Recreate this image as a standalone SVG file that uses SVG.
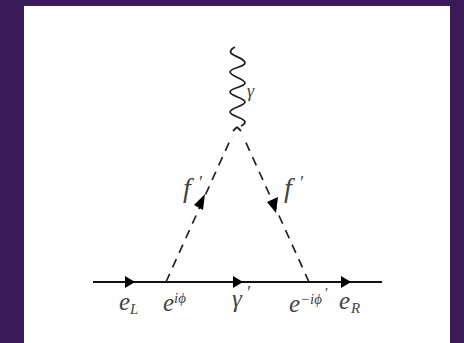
<svg xmlns="http://www.w3.org/2000/svg" width="464" height="343" viewBox="0 0 464 343">
<style>
.l{fill:none;stroke:#111;stroke-width:1.8}
.w{fill:none;stroke:#222;stroke-width:1.8;stroke-linejoin:round}
.d{fill:none;stroke:#222;stroke-width:1.7;stroke-dasharray:9 7}
.a{fill:#000}
text{font-family:"Liberation Serif",serif;font-style:italic;fill:#444}
.m{font-size:25px}
.b{font-size:28px}
.s{font-size:15px}
.k{font-size:18px}
</style>
<rect width="464" height="343" fill="#3b1a59"/>
<rect x="24" y="6" width="426" height="337" fill="#fff"/>
<g id="connectors">
<path class="l" d="M93 282H382"/>
<path class="d" d="M166 282L232 136"/>
<path class="d" d="M309 282L243 136"/>
<path class="w" d="M235 47C231 49 229 52 232 54C236 57 245 59 245 63C245 67 230 68 230 72C230 76 245 79 245 83C245 87 230 88 230 92C230 96 245 98 245 102C245 106 230 108 230 112C230 116 245 118 245 122C245 124 243 125 241 126"/>
<path class="w" d="M237 127L233 131M237 127L241 131"/>
<path class="a" d="M125 276L135 282L125 288Z"/>
<path class="a" d="M233 276L243 282L233 288Z"/>
<path class="a" d="M341 276L351 282L341 288Z"/>
<path class="a" d="M205 194L203 210L194 205Z"/>
<path class="a" d="M267 202L278 197L276 213Z"/>
</g>
<g id="label-gamma"><text class="k" x="247" y="97">γ</text></g>
<g id="label-f-left"><text class="b" x="183" y="197">f</text><text class="k" x="198" y="189">′</text></g>
<g id="label-f-right"><text class="b" x="284" y="197">f</text><text class="k" x="299" y="189">′</text></g>
<g id="label-eL"><text class="m" x="119" y="310">e</text><text class="s" x="130" y="314">L</text></g>
<g id="label-eiphi"><text class="m" x="163" y="311">e</text><text class="s" x="174" y="303">iϕ</text></g>
<g id="label-gammap"><text class="m" x="232" y="307">γ</text><text class="k" x="246" y="299">′</text></g>
<g id="label-emiphi"><text class="m" x="289" y="312">e</text><text class="s" x="300" y="304">−iϕ</text><text class="s" x="324" y="298">′</text></g>
<g id="label-eR"><text class="m" x="339" y="309">e</text><text class="s" x="351" y="313">R</text></g>
</svg>
